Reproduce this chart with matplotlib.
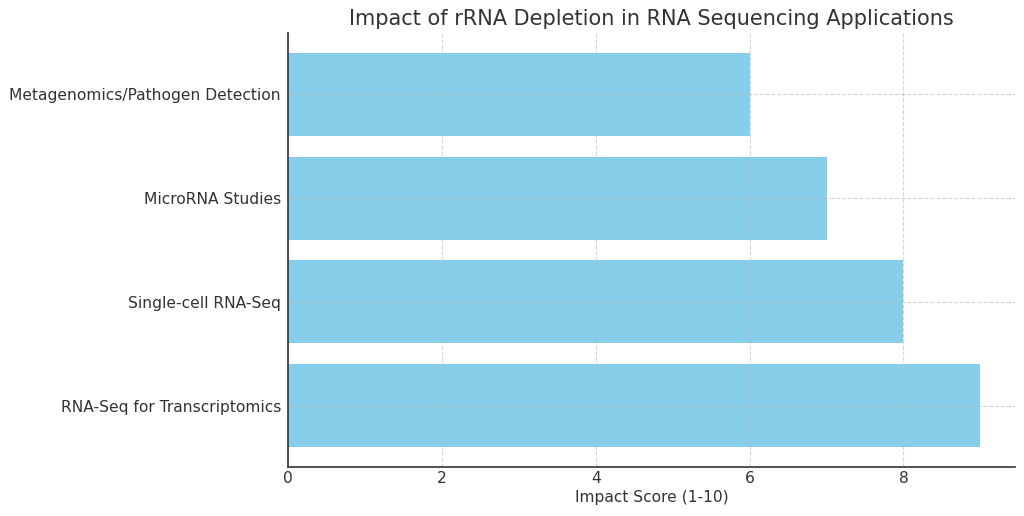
import matplotlib
matplotlib.use("Agg")
import matplotlib.pyplot as plt

categories = ["RNA-Seq for Transcriptomics", "Single-cell RNA-Seq", "MicroRNA Studies", "Metagenomics/Pathogen Detection"]
scores = [9, 8, 7, 6]

text_color = "#333333"
plt.rcParams['font.family'] = ['DejaVu Sans']

fig = plt.figure(figsize=(10.24, 5.16), dpi=100)
ax = fig.add_axes([288/1024, 1-467/516, (1015-288)/1024, (467-33)/516])
ax.barh(categories, scores, color="skyblue", zorder=1)
ax.grid(True, linestyle="--", color="#bbbbbb", alpha=0.6, linewidth=0.8, zorder=2)
ax.set_axisbelow(False)
ax.set_title("Impact of rRNA Depletion in RNA Sequencing Applications", fontsize=15, color=text_color, pad=6)
ax.set_xlabel("Impact Score (1-10)", fontsize=11.2, color=text_color, labelpad=3)
ax.tick_params(axis="x", labelsize=11.2, colors=text_color, length=0, pad=3)
ax.tick_params(axis="y", labelsize=11.2, colors=text_color, length=0, pad=5)
for s in ["top", "right"]:
    ax.spines[s].set_visible(False)
for s in ["left", "bottom"]:
    ax.spines[s].set_color(text_color)
    ax.spines[s].set_linewidth(1.2)
    ax.spines[s].set_zorder(3)
fig.savefig("out.png", dpi=100)
